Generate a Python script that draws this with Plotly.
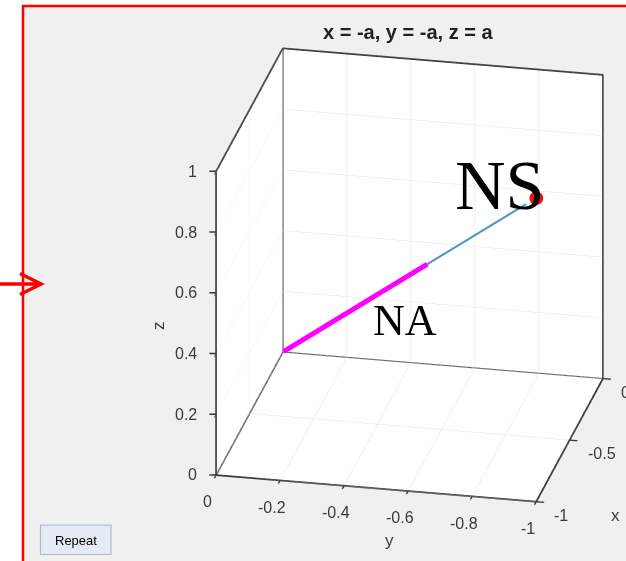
import numpy as np
import plotly.graph_objects as go

# ---- data -------------------------------------------------------------
# parametric path x = -a, y = -a, z = a
a_trail = [0.0, 0.57]         # highlighted (NA) section
a_rest = [0.57, 0.96]         # remaining part of the path drawn so far
a_end = 1.0                   # NS end point
a_na = 0.4                    # anchor of the NA label

x_range = [-1, 0]
y_range = [-1, 0]
z_range = [0, 1]

x_tickvals = [-1, -0.5, 0]
x_ticktext = ["-1", "-0.5", "0"]
y_tickvals = [-1, -0.8, -0.6, -0.4, -0.2, 0]
y_ticktext = ["-1", "-0.8", "-0.6", "-0.4", "-0.2", "0"]
z_tickvals = [0, 0.2, 0.4, 0.6, 0.8, 1]
z_ticktext = ["0", "0.2", "0.4", "0.6", "0.8", "1"]

title_text = "x = -a, y = -a, z = a"

W, H = 626, 561


def px(x):
    return x / W


def py(y):
    return 1 - y / H


def curve(a_vals):
    a = np.asarray(a_vals, dtype=float)
    return -a, -a, a


fig = go.Figure()

# box edges around the three back walls
x0, x1 = x_range
y0, y1 = y_range
z0, z1 = z_range
ex = [x1, x1, x1, x1, x1, None, x1, x0, x0, x1, None, x0, x0, x1]
ey = [y1, y0, y0, y1, y1, None, y1, y1, y1, y1, None, y1, y0, y0]
ez = [z0, z0, z1, z1, z0, None, z0, z0, z1, z1, None, z0, z0, z0]
fig.add_trace(go.Scatter3d(x=ex, y=ey, z=ez, mode="lines",
                           line=dict(color="#3a3a3a", width=3.5),
                           connectgaps=False, hoverinfo="skip"))

mx, my, mz = curve(a_trail)
fig.add_trace(go.Scatter3d(x=mx, y=my, z=mz, mode="lines",
                           line=dict(color="#ff00ff", width=10), hoverinfo="skip"))

bx, by, bz = curve(a_rest)
fig.add_trace(go.Scatter3d(x=bx, y=by, z=bz, mode="lines",
                           line=dict(color="#4b92c6", width=4), hoverinfo="skip"))

nx, ny, nz = curve([a_end])
fig.add_trace(go.Scatter3d(x=nx, y=ny, z=nz, mode="markers",
                           marker=dict(color="#ee1111", size=8, line=dict(width=0)),
                           hoverinfo="skip"))

text_font = "Liberation Sans, Arial"
tick_font = dict(family=text_font, size=16, color="#3a3a3a")
label_font = dict(family=text_font, size=17, color="#3a3a3a")
serif = "Liberation Serif, Times New Roman"
edge_color = "#3a3a3a"


def axis(rng, tv):
    return dict(range=rng, autorange=False, tickvals=tv, showticklabels=False,
                title=dict(text=""),
                showgrid=True, gridcolor="#e2e2e2", gridwidth=1,
                showbackground=True, backgroundcolor="white",
                showline=True, linecolor=edge_color, linewidth=3,
                zeroline=False, showspikes=False,
                ticks="outside", ticklen=8, tickwidth=3, tickcolor=edge_color)


scene_notes = []
# z tick marks on the left vertical edge
for v in z_tickvals:
    scene_notes.append(dict(x=x0, y=y1, z=v, text="", showarrow=True,
                            arrowhead=0, arrowwidth=1.5, arrowcolor=edge_color,
                            ax=-8, ay=0, standoff=0, startstandoff=0))
# tick labels, drawn at the tick positions on the visible edges
for v, t in zip(z_tickvals, z_ticktext):
    scene_notes.append(dict(x=x0, y=y1, z=v, text=t, showarrow=False,
                            xanchor="right", yanchor="middle", xshift=-17,
                            font=tick_font))
for v, t in zip(y_tickvals, y_ticktext):
    scene_notes.append(dict(x=x0, y=v, z=z0, text=t, showarrow=False,
                            xanchor="center", yanchor="middle", xshift=-8, yshift=-27,
                            font=tick_font))
for v, t in zip(x_tickvals, x_ticktext):
    scene_notes.append(dict(x=v, y=y0, z=z0, text=t, showarrow=False,
                            xanchor="left", yanchor="middle", xshift=16, yshift=-14,
                            font=tick_font))

# axis titles
scene_notes += [
    dict(x=x0, y=y1, z=(z0 + z1) / 2, text="z", showarrow=False, textangle=-90,
         xanchor="center", yanchor="middle", xshift=-58, yshift=-2, font=label_font),
    dict(x=x0, y=(y0 + y1) / 2, z=z0, text="y", showarrow=False,
         xanchor="center", yanchor="middle", xshift=14, yshift=-52, font=label_font),
    dict(x=(x0 + x1) / 2, y=y0, z=z0, text="x", showarrow=False,
         xanchor="center", yanchor="middle", xshift=46, yshift=-76, font=label_font),
]

# point labels
na_x, na_y, na_z = curve([a_na])
scene_notes += [
    dict(x=nx[0], y=ny[0], z=nz[0], text="NS", showarrow=False,
         xshift=-37, yshift=12, font=dict(family=serif, size=70, color="black")),
    dict(x=na_x[0], y=na_y[0], z=na_z[0], text="NA", showarrow=False,
         xshift=21, yshift=-30, font=dict(family=serif, size=44, color="black")),
]

fig.update_layout(
    width=W, height=H,
    margin=dict(l=0, r=0, t=0, b=0),
    paper_bgcolor="white",
    showlegend=False,
    hovermode=False,
    scene=dict(
        domain=dict(x=[0.308, 1.0], y=[0.02, 1.0]),
        aspectmode="manual",
        aspectratio=dict(x=1.17, y=1.19, z=1.20),
        xaxis=axis(x_range, x_tickvals),
        yaxis=axis(y_range, y_tickvals),
        zaxis=axis(z_range, z_tickvals),
        camera=dict(projection=dict(type="orthographic"),
                    eye=dict(x=-0.900 * 2.0, y=-0.191 * 2.0, z=0.391 * 2.0),
                    center=dict(x=0, y=0, z=0), up=dict(x=0, y=0, z=1)),
        annotations=scene_notes,
    ),
    annotations=[
        dict(xref="paper", yref="paper", x=px(408), y=py(32), text="<b>" + title_text + "</b>",
             showarrow=False, xanchor="center", yanchor="middle",
             font=dict(family=text_font, size=20, color="#222222")),
        dict(xref="paper", yref="paper", x=px(75.5), y=py(540), text="Repeat",
             showarrow=False, xanchor="center", yanchor="middle",
             font=dict(family=text_font, size=13, color="black")),
    ],
    shapes=[
        # window panel with red outline
        dict(type="rect", xref="paper", yref="paper", x0=px(23), x1=px(640), y0=py(575), y1=py(6),
             fillcolor="#f0f0f0", line=dict(color="#ff0000", width=2.5), layer="below"),
        # push button
        dict(type="rect", xref="paper", yref="paper", x0=px(40.5), x1=px(111), y0=py(554.5), y1=py(525),
             fillcolor="#e4ebf4", line=dict(color="#adb9cb", width=1.2), layer="below"),
        # red pointer arrow
        dict(type="line", xref="paper", yref="paper", x0=px(0), x1=px(40), y0=py(284), y1=py(284),
             line=dict(color="#ff0000", width=3.5)),
        dict(type="path", xref="paper", yref="paper",
             path=f"M {px(20)} {py(273.5)} L {px(41)} {py(284)} L {px(20)} {py(294.5)}",
             line=dict(color="#ff0000", width=3.5)),
    ],
)

fig.write_html("out.html")
